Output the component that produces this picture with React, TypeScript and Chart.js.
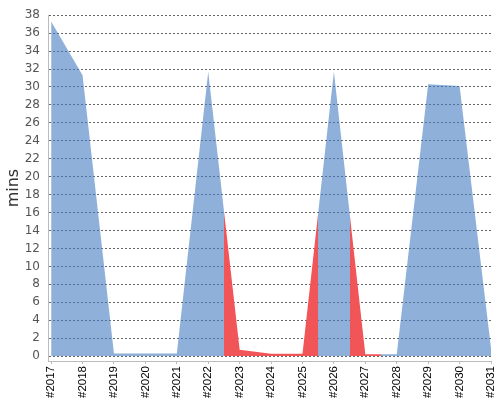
import { useEffect, useRef } from "react";
import { Chart, registerables } from "chart.js";

Chart.register(...registerables);

const years = [2017, 2018, 2019, 2020, 2021, 2022, 2023, 2024, 2025, 2026, 2027, 2028, 2029, 2030, 2031];
const minutes = [37.3, 31.3, 0.3, 0.3, 0.3, 31.7, 0.7, 0.25, 0.25, 31.7, 0.2, 0.2, 30.3, 30.1, 0.9];
// true where the period is drawn in red
const overLimit = [false, false, false, false, false, false, true, true, true, false, true, false, false, false, false];
const yTicks = [0, 2, 4, 6, 8, 10, 12, 14, 16, 18, 20, 22, 24, 26, 28, 30, 32, 34, 36, 38];

const BLUE = "rgba(67, 123, 192, 0.6)";
const RED = "#f25558";
const FONT = "'DejaVu Sans', sans-serif";

export default function App() {
  const chartRef = useRef<HTMLCanvasElement>(null);
  const chartInstance = useRef<Chart | null>(null);

  useEffect(() => {
    if (!chartRef.current) return;
    if (chartInstance.current) {
      chartInstance.current.destroy();
    }

    const ctx = chartRef.current.getContext("2d");
    if (!ctx) return;

    chartInstance.current = new Chart(ctx, {
      type: "line",
      data: {
        datasets: [
          {
            data: years.map((yr, i) => ({ x: yr, y: minutes[i] })),
            fill: "origin",
            tension: 0,
            borderWidth: 0,
            pointRadius: 0,
            backgroundColor: (c: any) => {
              const chart = c.chart;
              const area = chart.chartArea;
              if (!area) return BLUE;
              const xs = chart.scales.x;
              const w = area.right - area.left;
              const g = chart.ctx.createLinearGradient(area.left, 0, area.right, 0);
              const frac = (v: number) =>
                Math.min(1, Math.max(0, (xs.getPixelForValue(v) - area.left) / w));
              years.forEach((yr, i) => {
                const col = overLimit[i] ? RED : BLUE;
                g.addColorStop(frac(yr - 0.5), col);
                g.addColorStop(frac(yr + 0.5), col);
              });
              return g;
            }
          }
        ]
      },
      options: {
        animation: false,
        responsive: true,
        maintainAspectRatio: false,
        layout: { padding: { top: 6, right: 3, left: 6, bottom: 0 } },
        plugins: {
          legend: { display: false },
          tooltip: { enabled: false }
        },
        scales: {
          x: {
            type: "linear",
            min: 2016.9,
            max: 2031,
            afterBuildTicks: (scale: any) => {
              scale.ticks = years.map(v => ({ value: v }));
            },
            afterFit: (scale: any) => {
              // keep the rotated end labels from pushing the plot inwards
              scale.paddingLeft = 0;
              scale.paddingRight = 9;
            },
            ticks: {
              autoSkip: false,
              maxRotation: 90,
              minRotation: 90,
              padding: 2,
              color: "#000",
              font: { family: "'Liberation Sans', Arial, sans-serif", size: 11.5 },
              callback: (v: any) => "#" + v
            },
            grid: {
              drawOnChartArea: false,
              drawTicks: true,
              tickLength: 3,
              color: "#bbb"
            },
            border: { color: "#bbb" }
          },
          y: {
            min: -0.55,
            max: 38,
            afterBuildTicks: (scale: any) => {
              scale.ticks = yTicks.map(v => ({ value: v }));
            },
            afterFit: (scale: any) => {
              scale.width = 42;
            },
            ticks: {
              padding: 8,
              color: "#555",
              font: { family: FONT, size: 12 }
            },
            grid: {
              drawTicks: false,
              color: "#666",
              lineWidth: 1
            },
            border: { color: "#bbb", dash: [2, 2] },
            title: {
              display: true,
              text: "mins",
              color: "#333",
              padding: { top: 0, bottom: 3 },
              font: { family: FONT, size: 16, lineHeight: 1 }
            }
          }
        }
      }
    });

    return () => {
      if (chartInstance.current) {
        chartInstance.current.destroy();
        chartInstance.current = null;
      }
    };
  }, []);

  return (
    <div style={{ position: "absolute", left: 0, top: 0, width: 500, height: 400 }}>
      <canvas ref={chartRef} />
    </div>
  );
}
